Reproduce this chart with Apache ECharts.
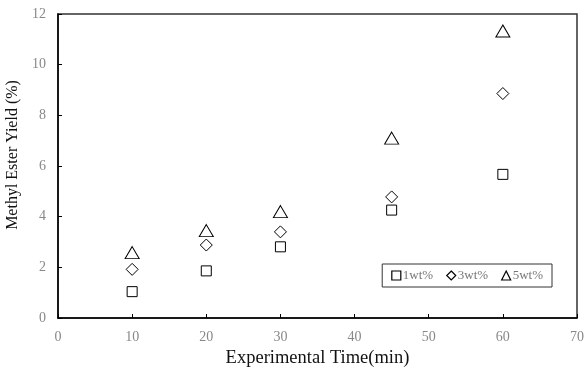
<!DOCTYPE html>
<html>
<head>
<meta charset="utf-8">
<script src="https://cdn.jsdelivr.net/npm/echarts@6/dist/echarts.min.js"></script>
<style>
  html, body { margin: 0; padding: 0; background: #fff; }
  #one { width: 584px; height: 371px; }
</style>
</head>
<body>
<div id="one"></div>
<script>
// 数据
var times = [10, 20, 30, 45, 60];
var names = ['1wt%', '3wt%', '5wt%'];
var yield1 = [1.04, 1.86, 2.81, 4.26, 5.67];
var yield3 = [1.92, 2.88, 3.40, 4.78, 8.86];
var yield5 = [2.58, 3.45, 4.20, 7.10, 11.33];
var symbols = ['rect', 'diamond', 'triangle'];
var sizes = [[10, 10], [12, 12], [14, 12]];

var myChart = echarts.init(document.getElementById('one'));

function pairs(ys) {
    var out = [];
    for (var i = 0; i < times.length; i++) {
        out.push([times[i], ys[i]]);
    }
    return out;
}

var allData = [yield1, yield3, yield5];
var series = [];
for (var k = 0; k < names.length; k++) {
    series.push({
        name: names[k],
        type: 'scatter',
        symbol: symbols[k],
        symbolSize: sizes[k],
        data: pairs(allData[k]),
        itemStyle: {
            color: '#fff',
            borderColor: '#000',
            borderWidth: 1,
            opacity: 1
        }
    });
}

var font = '"Liberation Serif", "Times New Roman", serif';

var option = {
    backgroundColor: '#FFFFFF',
    animation: false,
    textStyle: { fontFamily: font },
    grid: {
        left: 58,
        right: 7,
        top: 14,
        bottom: 53,
        outerBoundsMode: 'none',
        containLabel: false,
        show: true,
        borderColor: '#333',
        borderWidth: 1.5
    },
    legend: {
        data: names,
        right: 32,
        top: 264,
        orient: 'horizontal',
        itemWidth: 9,
        itemHeight: 9,
        itemGap: 13,
        padding: [5, 9, 5, 9],
        borderColor: '#333',
        borderWidth: 1,
        backgroundColor: '#fff',
        itemStyle: { borderWidth: 1.2 },
        textStyle: {
            fontFamily: font,
            fontSize: 13,
            color: '#777',
            padding: [0, 0, 0, -3]
        }
    },
    xAxis: {
        type: 'value',
        min: 0,
        max: 70,
        interval: 10,
        name: 'Experimental Time(min)',
        nameLocation: 'middle',
        nameGap: 30,
        nameTextStyle: { fontFamily: font, fontSize: 18.5, color: '#111' },
        axisLine: { show: true, lineStyle: { color: '#000', width: 1.5 } },
        axisTick: { show: true, inside: true, length: 4, lineStyle: { color: '#000' } },
        axisLabel: { fontFamily: font, fontSize: 14, color: '#888', margin: 12 },
        splitLine: { show: false }
    },
    yAxis: {
        type: 'value',
        min: 0,
        max: 12,
        interval: 2,
        name: 'Methyl Ester Yield (%)',
        nameLocation: 'middle',
        nameGap: 30,
        nameTextStyle: { fontFamily: font, fontSize: 16, color: '#111', padding: [0, 0, 0, 22] },
        axisLine: { show: true, lineStyle: { color: '#000', width: 1.5 } },
        axisTick: { show: true, inside: true, length: 4, lineStyle: { color: '#000' } },
        axisLabel: { fontFamily: font, fontSize: 14, color: '#888', margin: 12 },
        splitLine: { show: false }
    },
    series: series
};

myChart.setOption(option, true);
</script>
</body>
</html>
